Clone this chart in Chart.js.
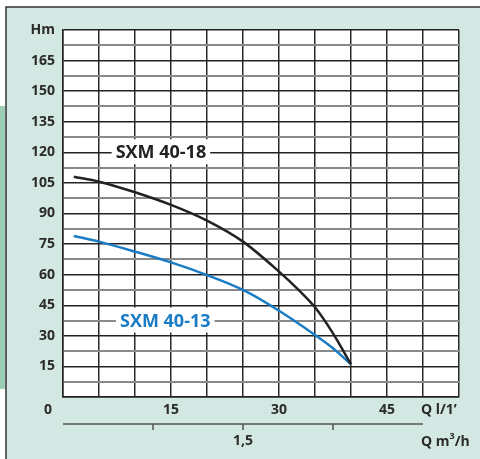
<!DOCTYPE html>
<html>
<head>
<meta charset="utf-8">
<script src="https://cdn.jsdelivr.net/npm/chart.js@4"></script>
<style>
    html, body { margin: 0; padding: 0; background: #ffffff; }
    #wrap { width: 480px; height: 459px; }
</style>
</head>
<body>
<div id="wrap"><canvas id="chart" width="480" height="459"></canvas></div>
<script>
// flow in l/min, head in m
const flow4018 = [1.5, 5, 10, 15, 20, 25, 30, 32.5, 35, 37.5, 40];
const head4018 = [108, 105.6, 100.4, 94.2, 86.5, 76.2, 61.5, 53.3, 44, 31.2, 16];
const flow4013 = [1.5, 5, 10, 15, 20, 25, 30, 35, 37.5, 40];
const head4013 = [79, 76.2, 71.3, 66, 59.8, 52.5, 42.3, 30.4, 23.9, 16];

const headLabels = [15, 30, 45, 60, 75, 90, 105, 120, 135, 150, 165];
const flowLabels = [15, 30, 45];
const m3hTicks = [0.75, 1.5, 2.25];
const m3hLabels = ['', '1,5', ''];

const FONT = '"Open Sans", "DejaVu Sans", sans-serif';
const textColor = '#2b2b2b';

const toPoints = (xs, ys) => xs.map((x, i) => ({ x, y: ys[i] }));

// panel background, left strip, frame and white plot area
const backgroundPlugin = {
    id: 'background',
    beforeDraw: (chart) => {
        const ctx = chart.ctx;
        const area = chart.chartArea;
        ctx.save();
        ctx.fillStyle = '#ffffff';
        ctx.fillRect(0, 0, chart.width, chart.height);
        ctx.fillStyle = '#d3e7e3';
        ctx.fillRect(6, 7, chart.width - 6, chart.height - 7);
        ctx.fillStyle = '#9bceb4';
        ctx.fillRect(0, 106, 5, 283);
        ctx.strokeStyle = '#333333';
        ctx.lineWidth = 1.5;
        ctx.beginPath();
        ctx.moveTo(6, chart.height);
        ctx.lineTo(6, 7);
        ctx.lineTo(chart.width, 7);
        ctx.stroke();
        ctx.fillStyle = '#ffffff';
        ctx.fillRect(area.left, area.top, area.right - area.left, area.bottom - area.top);
        ctx.restore();
    }
};

// curve names, extra axis texts and the m3/h axis
const annotationPlugin = {
    id: 'annotations',
    afterDatasetsDraw: (chart) => {
        const ctx = chart.ctx;
        const x = chart.scales.x;
        const y = chart.scales.y;
        ctx.save();

        const curveLabel = (text, q, h, color) => {
            ctx.font = `bold 18px ${FONT}`;
            const cx = x.getPixelForValue(q);
            const cy = y.getPixelForValue(h);
            const w = ctx.measureText(text).width;
            ctx.fillStyle = '#ffffff';
            ctx.fillRect(cx - w / 2 - 4, cy - 13, w + 8, 25);
            ctx.fillStyle = color;
            ctx.textAlign = 'center';
            ctx.textBaseline = 'middle';
            ctx.fillText(text, cx, cy + 1);
        };
        curveLabel('SXM 40-18', 13.6, 120, '#222222');
        curveLabel('SXM 40-13', 14.2, 37.5, '#1a7cc4');

        ctx.fillStyle = textColor;
        ctx.font = `bold 14px ${FONT}`;
        ctx.textBaseline = 'middle';
        ctx.textAlign = 'center';
        ctx.fillText('0', 48, 410);
        ctx.textAlign = 'left';
        ctx.fillText("Q l/1\u2019", 421, 410);

        // second flow axis in m3/h
        const m3hPx = (v) => x.getPixelForValue(v * 1000 / 60);
        const axisY = 424;
        ctx.strokeStyle = '#555555';
        ctx.lineWidth = 1.5;
        ctx.beginPath();
        ctx.moveTo(x.getPixelForValue(0), axisY);
        ctx.lineTo(m3hPx(3), axisY);
        m3hTicks.forEach((t) => {
            ctx.moveTo(m3hPx(t), axisY);
            ctx.lineTo(m3hPx(t), axisY + 6);
        });
        ctx.stroke();
        ctx.textAlign = 'center';
        m3hTicks.forEach((t, i) => {
            ctx.fillText(m3hLabels[i], m3hPx(t), 441);
        });
        ctx.textAlign = 'left';
        ctx.fillText('Q m', 421, 442);
        let w = ctx.measureText('Q m').width;
        ctx.font = `bold 9px ${FONT}`;
        ctx.fillText('3', 421 + w, 436);
        let w3 = ctx.measureText('3').width;
        ctx.font = `bold 14px ${FONT}`;
        ctx.fillText('/h', 421 + w + w3, 442);
        ctx.restore();
    }
};

new Chart(document.getElementById('chart'), {
    type: 'line',
    data: {
        datasets: [{
            label: 'SXM 40-18',
            data: toPoints(flow4018, head4018),
            borderColor: '#222222',
            borderWidth: 2.5,
            pointRadius: 0,
            cubicInterpolationMode: 'monotone',
            fill: false
        }, {
            label: 'SXM 40-13',
            data: toPoints(flow4013, head4013),
            borderColor: '#1a7cc4',
            borderWidth: 2.5,
            pointRadius: 0,
            cubicInterpolationMode: 'monotone',
            fill: false
        }]
    },
    options: {
        responsive: false,
        animation: false,
        layout: {
            padding: { top: 30, right: 21, left: 0, bottom: 0 }
        },
        plugins: {
            legend: { display: false },
            tooltip: { enabled: false }
        },
        scales: {
            x: {
                type: 'linear',
                min: 0,
                max: 55,
                afterFit: (scale) => { scale.height = 62; },
                ticks: {
                    stepSize: 5,
                    padding: 5,
                    autoSkip: false,
                    maxRotation: 0,
                    color: textColor,
                    font: { family: FONT, size: 14, weight: 'bold' },
                    callback: (v) => flowLabels.includes(v) ? String(v) : ''
                },
                grid: {
                    color: '#2a2a2a',
                    lineWidth: 1.5,
                    drawTicks: false
                },
                border: { color: '#222222', width: 1.5 }
            },
            y: {
                min: 0,
                max: 180,
                afterFit: (scale) => { scale.width = 63; },
                ticks: {
                    stepSize: 7.5,
                    padding: 8,
                    autoSkip: false,
                    color: textColor,
                    font: { family: FONT, size: 14, weight: 'bold' },
                    callback: (v) => v === 180 ? 'Hm' : (headLabels.includes(v) ? String(v) : '')
                },
                grid: {
                    color: (c) => (c.tick && c.tick.value % 15 === 0) ? '#222222' : '#8a8a8a',
                    lineWidth: (c) => (c.tick && c.tick.value % 15 === 0) ? 1.5 : 2,
                    drawTicks: false
                },
                border: { color: '#222222', width: 1.5 }
            }
        }
    },
    plugins: [backgroundPlugin, annotationPlugin]
});
</script>
</body>
</html>
